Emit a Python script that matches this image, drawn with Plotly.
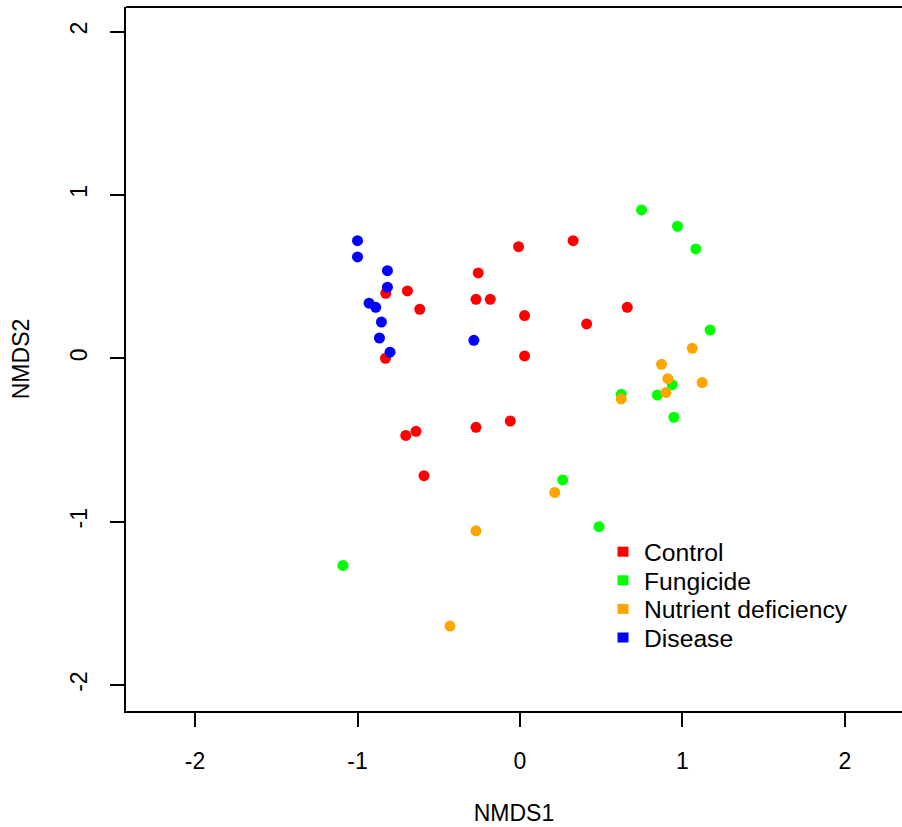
import plotly.graph_objects as go

# ---- data ----
groups = ["Control", "Fungicide", "Nutrient deficiency", "Disease"]
colors = ["#FF0000", "#00FF00", "#FFA500", "#0000FF"]

control_x = [-0.826, -0.693, -0.617, -0.828, -0.257, -0.009, 0.327, -0.271, -0.183,
             0.028, 0.660, 0.410, 0.028, -0.703, -0.640, -0.271, -0.060, -0.591]
control_y = [0.398, 0.412, 0.300, 0.000, 0.522, 0.683, 0.720, 0.361, 0.361,
             0.261, 0.312, 0.210, 0.014, -0.472, -0.447, -0.423, -0.384, -0.719]

fungicide_x = [0.748, 0.969, 1.082, 1.170, 0.623, 0.845, 0.937, 0.947, 0.263, 0.486, -1.090]
fungicide_y = [0.908, 0.808, 0.669, 0.173, -0.221, -0.225, -0.162, -0.361, -0.745, -1.031, -1.268]

nutrient_x = [1.060, 0.871, 0.910, 1.121, 0.898, 0.623, 0.214, -0.271, -0.431]
nutrient_y = [0.061, -0.037, -0.125, -0.149, -0.210, -0.249, -0.821, -1.056, -1.639]

disease_x = [-1.000, -1.000, -0.816, -0.816, -0.929, -0.888, -0.853, -0.865, -0.800, -0.284]
disease_y = [0.720, 0.620, 0.536, 0.435, 0.337, 0.312, 0.222, 0.124, 0.037, 0.110]

tick_vals = [-2, -1, 0, 1, 2]

series_x = [control_x, fungicide_x, nutrient_x, disease_x]
series_y = [control_y, fungicide_y, nutrient_y, disease_y]

# ---- figure ----
W, H = 902, 827
ML, MR, MT, MB = 126, 0, 7, 116
PW, PH = W - ML - MR, H - MT - MB

fig = go.Figure()
for name, col, xs, ys in zip(groups, colors, series_x, series_y):
    fig.add_trace(go.Scatter(
        x=xs, y=ys, mode="markers", name=name, showlegend=False,
        marker=dict(color=col, size=11, line=dict(width=0)),
    ))

FONT = "Liberation Sans, Arial, sans-serif"

# manual legend (square keys + text), laid out like R's legend()
def px_x(p):
    return (p - ML) / PW

def px_y(p):
    return (MT + PH - p) / PH

row0, dy = 551.7, 28.6
for i, (name, col) in enumerate(zip(groups, colors)):
    cy = row0 + i * dy
    fig.add_shape(type="rect", xref="paper", yref="paper",
                  x0=px_x(617.5), x1=px_x(628.5), y0=px_y(cy + 5), y1=px_y(cy - 5),
                  fillcolor=col, line=dict(width=0))
    fig.add_annotation(text=name, xref="paper", yref="paper",
                       x=px_x(642), y=px_y(cy + 1), xanchor="left", yanchor="middle",
                       showarrow=False, font=dict(size=24.7, color="black", family=FONT))

# top border of the box (right side is cut off in the reference)
fig.add_shape(type="line", xref="paper", yref="paper", x0=0, x1=1, y0=1, y1=1,
              line=dict(color="black", width=2))

axis_common = dict(
    showgrid=False, zeroline=False, showline=True, linecolor="black", linewidth=2,
    ticks="outside", ticklen=14, tickwidth=2, tickcolor="black",
    tickvals=tick_vals, ticktext=[str(v) for v in tick_vals],
    tickfont=dict(size=23, color="black", family=FONT),
)

fig.update_layout(
    width=W, height=H,
    margin=dict(l=ML, r=MR, t=MT, b=MB, pad=0),
    plot_bgcolor="white", paper_bgcolor="white",
    showlegend=False,
    xaxis=dict(range=[-2.425, 2.351], ticklabelstandoff=14,
               title=dict(text="NMDS1", font=dict(size=23, color="black", family=FONT), standoff=32),
               **axis_common),
    yaxis=dict(range=[-2.159, 2.150], tickangle=-90, ticklabelstandoff=14,
               title=dict(text="NMDS2", font=dict(size=23, color="black", family=FONT), standoff=30),
               **axis_common),
)

fig.write_html("out.html")
